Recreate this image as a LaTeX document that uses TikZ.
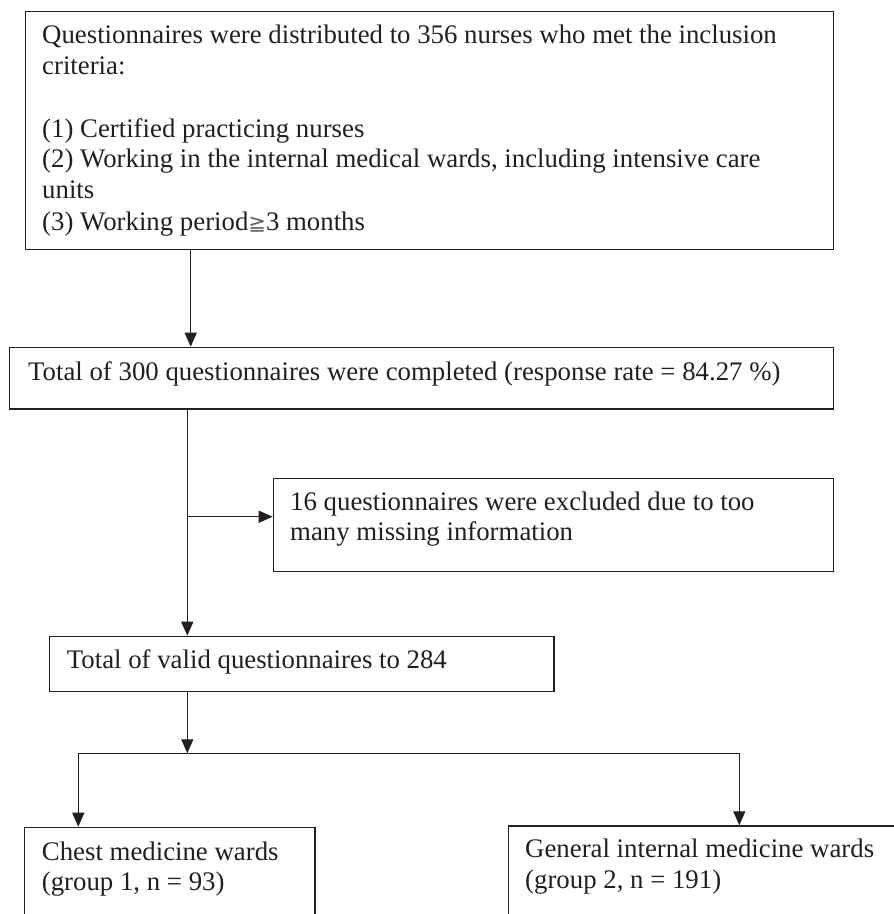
\documentclass[tikz,border=0pt]{standalone}
\usepackage{fontspec}
\setmainfont{Liberation Serif}
\newfontfamily\symfont{DejaVu Sans}
\usetikzlibrary{arrows.meta}
\definecolor{ink}{HTML}{231F20}
\begin{document}
\begin{tikzpicture}[x=1pt,y=-1pt,
  box/.style={draw=ink,line width=1.3pt,rectangle,inner sep=0pt,anchor=north west},
  txt/.style={anchor=base west,inner sep=0pt,text=ink,font=\fontsize{26.8}{31}\selectfont},
  ln/.style={draw=ink,line width=1.3pt},
  arr/.style={ln,-{Triangle[length=14pt,width=12pt]}}]
\useasboundingbox (0,0) rectangle (894,914);
\clip (0,0) rectangle (894,914);
% boxes
\node[box,minimum width=808.5pt,minimum height=238.3pt] (b1) at (24.5,10.7) {};
\node[box,minimum width=824pt,minimum height=61.7pt] (b2) at (9,346.7) {};
\node[box,minimum width=560.3pt,minimum height=92.7pt] (b3) at (272.7,478) {};
\node[box,minimum width=504.6pt,minimum height=55pt] (b4) at (48.7,635.7) {};
\node[box,minimum width=290.3pt,minimum height=140pt] (b5) at (24,826.7) {};
\node[box,minimum width=450pt,minimum height=140pt] (b6) at (507.7,825.3) {};
% texts
\node[txt] (t1a) at (42,43) {Questionnaires were distributed to 356 nurses who met the inclusion};
\node[txt] (t1b) at (42,74) {criteria:};
\node[txt] (t1c) at (42,137) {(1) Certified practicing nurses};
\node[txt] (t1d) at (42,167) {(2) Working in the internal medical wards, including intensive care};
\node[txt] (t1e) at (42,198) {units};
\node[txt] (t1f) at (42,230) {(3) Working period{\symfont\color{ink!70}\fontsize{21}{31}\selectfont ≧}3 months};
\node[txt] (t2) at (28,380) {Total of 300 questionnaires were completed (response rate = 84.27 \%)};
\node[txt] (t3a) at (290,510) {16 questionnaires were excluded due to too};
\node[txt] (t3b) at (290,540) {many missing information};
\node[txt] (t4) at (66.7,668) {Total of valid questionnaires to 284};
\node[txt] (t5a) at (41.7,860) {Chest medicine wards};
\node[txt] (t5b) at (41.7,890) {(group 1, n = 93)};
\node[txt] (t6a) at (525,857) {General internal medicine wards};
\node[txt] (t6b) at (525,888) {(group 2, n = 191)};
% connectors
\path (b1.south west) ++(166.2,0) coordinate (p1);
\draw[arr] (p1) -- (p1 |- b2.north);
\path (b2.south west) ++(178.3,0) coordinate (p2);
\draw[arr] (p2) -- (p2 |- b4.north);
\coordinate (j) at (187.3,516.7);
\draw[arr] (j) -- (b3.west |- j);
\path (b4.south west) ++(138.6,0) coordinate (p4);
\coordinate (sp) at (187.3,753.3);
\draw[arr] (p4) -- (sp);
\coordinate (sl) at (78.3,753.3);
\coordinate (sr) at (739.3,753.3);
\draw[ln] (sl) -- (sr);
\draw[arr] (sl) -- (sl |- b5.north);
\draw[arr] (sr) -- (sr |- b6.north);
\end{tikzpicture}
\end{document}
